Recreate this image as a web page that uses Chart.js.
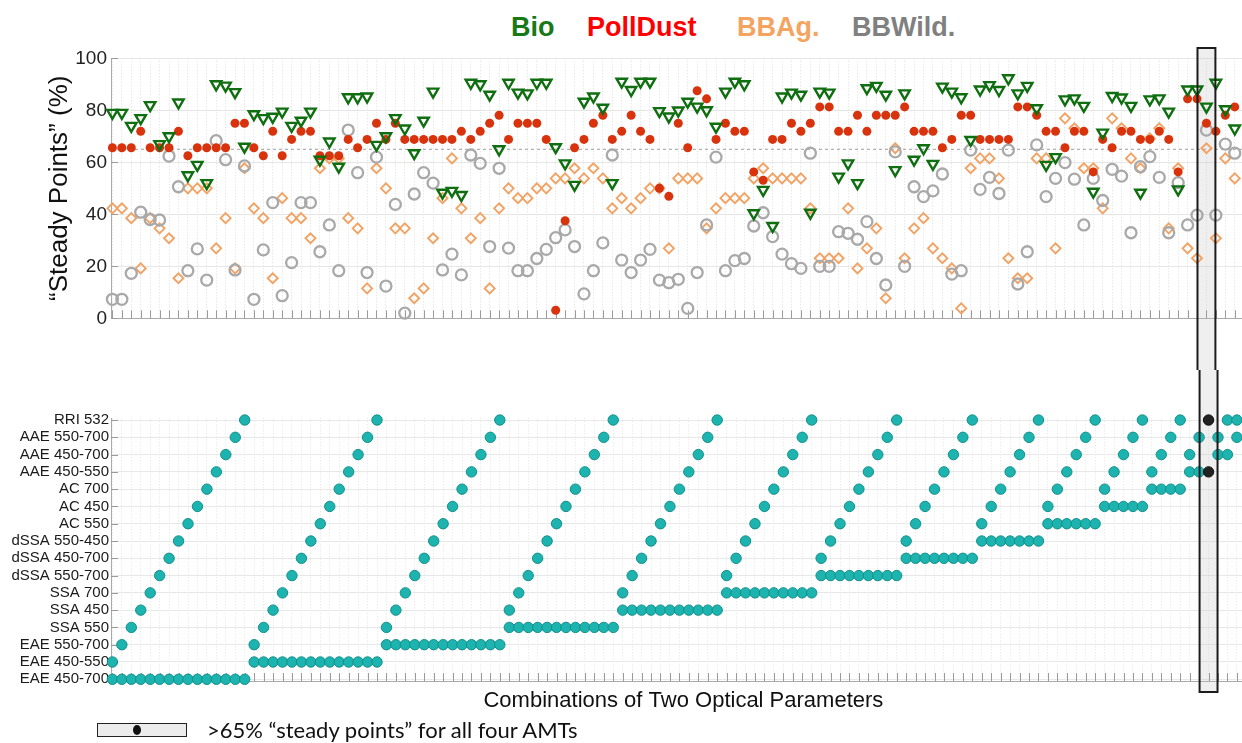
<!DOCTYPE html>
<html>
<head>
<meta charset="utf-8">
<script src="https://cdn.jsdelivr.net/npm/chart.js@4.4.0/dist/chart.umd.min.js"></script>
<style>
  body { margin: 0; width: 1242px; height: 743px; overflow: hidden; background: #fff; position: relative;
         font-family: "Liberation Sans", Arial, sans-serif; }
  #topChart { position: absolute; left: 0; top: 0; }
  #bottomChart { position: absolute; left: 0; top: 370px; }
  .amt { position: absolute; top: 14px; font-weight: bold; font-size: 27px; line-height: 27px; white-space: nowrap; }
  #keyBox { position: absolute; left: 97px; top: 723px; width: 88px; height: 12px; border: 1.5px solid #222; background: #ececec; }
  #keyBox span { position: absolute; left: 35px; top: 1px; width: 8px; height: 10px; border-radius: 50%; background: #111; }
  #keyText { position: absolute; left: 207px; top: 716px; font-family: Lato, "Open Sans", sans-serif; font-size: 22px; color: #111; white-space: nowrap; }
</style>
</head>
<body>
<div class="amt" style="left:511px;color:#187a17">Bio</div>
<div class="amt" style="left:587px;color:#ff0000">PollDust</div>
<div class="amt" style="left:737px;color:#f4a461">BBAg.</div>
<div class="amt" style="left:852px;color:#808080">BBWild.</div>

<canvas id="topChart" width="1262" height="370" style="width:1262px;height:370px"></canvas>
<canvas id="bottomChart" width="1262" height="373" style="width:1262px;height:373px"></canvas>

<div id="keyBox"><span></span></div>
<div id="keyText">&gt;65% “steady points” for all four AMTs</div>

<script>
// optical parameters, bottom to top
const params = ['EAE 450-700', 'EAE 450-550', 'EAE 550-700', 'SSA 550', 'SSA 450', 'SSA 700',
  'dSSA 550-700', 'dSSA 450-700', 'dSSA 550-450', 'AC 550', 'AC 450', 'AC 700',
  'AAE 450-550', 'AAE 450-700', 'AAE 550-700', 'RRI 532'];

// "steady points" (%) per combination
const bio = [
  79, 79, 74, 77, 82, 67, 70, 83, 55, 59, 52, 90, 89.5, 87, 66, 78.5, 77, 77.5, 79.5, 74,
  76, 79.5, 61, 68, 58.3, 85, 85, 85.3, 66.7, 70, 77, 73, 63.5, 76, 87.2, 48.3, 49, 47.4, 90.6, 90,
  86, 65, 90.6, 86.8, 86.5, 90.6, 90.6, 65.8, 59.6, 51.3, 83.3, 85.3, 81, 52, 91, 87.8, 91, 91, 79.7, 77.6,
  79.9, 83.3, 81.4, 80, 73.7, 87.2, 91, 90, 40.4, 49.4, 35.5, 85.3, 86.8, 86, 40.6, 87.2, 86.8, 54.5, 59.6, 52,
  88.5, 89.4, 86, 57, 86.5, 61, 65.4, 59.4, 89.1, 87.2, 85, 68.6, 88, 89.7, 87.8, 92.3, 86.5, 89.4, 80.8, 59,
  62, 84.2, 84.6, 81.7, 48.7, 71.4, 85.5, 84.9, 81.7, 48.3, 84.2, 84.6, 79.5, 49.6, 88, 88, 81.4, 90.6, 80.4, 73
];
const pollDust = [
  65.6, 65.6, 65.6, 71.9, 65.6, 65.6, 65.6, 71.9, 62.5, 65.6, 65.6, 65.6, 65.6, 75, 75, 65.6, 62.5, 71.9, 62.5, 68.8,
  71.9, 71.9, 62.5, 62.5, 62.5, 68.8, 65.6, 68.8, 75, 68.8, 75, 68.8, 68.8, 68.8, 68.8, 68.8, 68.8, 71.9, 68.8, 71.9,
  75, 78.1, 68.8, 75, 75, 75, 68.8, 3.1, 37.5, 65.6, 68.8, 75, 78.1, 68.8, 71.9, 78.1, 71.9, 68.8, 50, 46.9,
  75, 65.6, 87.5, 84.4, 68.8, 75, 71.9, 71.9, 56.3, 53.1, 68.8, 68.8, 75, 71.9, 75, 81.3, 81.3, 71.9, 71.9, 78.1,
  71.9, 78.1, 78.1, 78.1, 81.3, 71.9, 71.9, 71.9, 65.6, 68.8, 78.1, 78.1, 68.8, 68.8, 68.8, 68.8, 81.3, 81.3, 78.1, 71.9,
  71.9, 65.6, 71.9, 71.9, 56.3, 68.8, 65.6, 71.9, 71.9, 68.8, 68.8, 71.9, 68.8, 56.3, 84.4, 84.4, 75, 71.9, 78.1, 81.3
];
const bbAg = [
  42.3, 42.3, 38.5, 19.2, 38.5, 34.6, 30.8, 15.4, 50, 50, 50, 26.9, 38.5, 19.2, 57.7, 42.3, 38.5, 15.4, 46.2, 38.5,
  38.5, 30.8, 57.7, 61.5, 61.5, 38.5, 34.6, 11.5, 57.7, 50, 34.6, 34.6, 7.7, 11.5, 30.8, 46.2, 61.5, 42.3, 30.8, 38.5,
  11.5, 42.3, 50, 46.2, 46.2, 50, 50, 53.8, 53.8, 57.7, 53.8, 57.7, 53.8, 42.3, 46.2, 42.3, 46.2, 50, 50, 26.9,
  53.8, 53.8, 53.8, 34.6, 42.3, 46.2, 46.2, 46.2, 53.8, 57.7, 53.8, 53.8, 53.8, 53.8, 42.3, 23.1, 23.1, 23.1, 42.3, 19.2,
  26.9, 34.6, 7.7, 65.4, 23.1, 34.6, 38.5, 26.9, 23.1, 19.2, 3.8, 57.7, 61.5, 61.5, 53.8, 23.1, 15.4, 15.4, 61.5, 61.5,
  26.9, 76.9, 73.1, 57.7, 57.7, 42.3, 76.9, 73.1, 61.5, 57.7, 69.2, 73.1, 34.6, 57.7, 26.9, 23.1, 65.4, 30.8, 61.5, 53.8
];
const bbWild = [
  7.3, 7.3, 17.3, 40.8, 38, 37.8, 62.4, 50.6, 18.3, 26.7, 14.7, 68.3, 61, 18.6, 58.6, 7.3, 26.3, 44.5, 8.7, 21.4,
  44.5, 44.5, 25.6, 35.9, 18.3, 72.4, 56, 17.6, 62, 12.4, 43.8, 2, 47.8, 56, 52, 18.6, 24.7, 16.7, 62.8, 59.6,
  27.6, 57.7, 27, 18.3, 18.3, 23, 26.5, 31, 34, 27.6, 9.4, 18.3, 29, 62.8, 22.4, 17.6, 22.4, 26.5, 14.7, 13.7,
  15, 3.8, 17.6, 35.9, 62, 18.3, 22.2, 23, 35.5, 40.6, 31.4, 24.7, 21, 19.2, 63.5, 20, 20, 33.3, 32.7, 30.4,
  37.2, 23, 12.8, 64, 20, 50.6, 46.8, 49, 55.5, 17, 18.3, 64.7, 49.6, 54.2, 48, 64.7, 13.2, 25.6, 66.7, 46.8,
  53.8, 59.9, 53.5, 35.9, 53.8, 45.3, 57.3, 54.7, 32.9, 58.3, 62.2, 54.2, 32.9, 52.2, 35.9, 39.7, 72.4, 39.7, 67, 63.5
];

const yTicks = [0, 20, 40, 60, 80, 100];
const threshold = 65;
const steadyPair = ['AAE 450-550', 'RRI 532'];

// every pair of two parameters, in the figure's order
const combos = [];
for (let i = 0; i < params.length; i++) {
  for (let j = i + 1; j < params.length; j++) combos.push([i, j]);
}
const steadyIdx = combos.findIndex(c => params[c[0]] === steadyPair[0] && params[c[1]] === steadyPair[1]);

const X_MIN = -0.15, X_MAX = 121;
const FONT = '"Liberation Sans", Arial, sans-serif';
Chart.defaults.font.family = FONT;
Chart.defaults.animation = false;

// highlight column + inward tick marks
const frame = {
  id: 'frame',
  beforeDatasetsDraw(chart, args, opts) {
    const {ctx, chartArea, scales: {x, y}} = chart;
    const x1 = x.getPixelForValue(steadyIdx - 0.95), x2 = x.getPixelForValue(steadyIdx + 0.95);
    ctx.save();
    ctx.fillStyle = 'rgba(190,190,190,0.25)';
    ctx.fillRect(x1, opts.y0, x2 - x1, opts.y1 - opts.y0);
    ctx.strokeStyle = '#9a9a9a';
    ctx.lineWidth = 1;
    ctx.beginPath();
    x.ticks.forEach(t => {
      const px = Math.round(x.getPixelForValue(t.value)) + 0.5;
      ctx.moveTo(px, chartArea.bottom);
      ctx.lineTo(px, chartArea.bottom - 8);
    });
    y.ticks.forEach(t => {
      const py = Math.round(y.getPixelForValue(t.value)) + 0.5;
      ctx.moveTo(chartArea.left, py);
      ctx.lineTo(chartArea.left + 7, py);
    });
    ctx.stroke();
    ctx.restore();
  },
  afterDatasetsDraw(chart, args, opts) {
    const {ctx, scales: {x}} = chart;
    const x1 = x.getPixelForValue(steadyIdx - 0.95), x2 = x.getPixelForValue(steadyIdx + 0.95);
    ctx.save();
    ctx.strokeStyle = '#1c1c1c';
    ctx.lineWidth = 2;
    ctx.beginPath();
    ctx.moveTo(x1, opts.y0); ctx.lineTo(x1, opts.y1);
    ctx.moveTo(x2, opts.y0); ctx.lineTo(x2, opts.y1);
    if (opts.top) { ctx.moveTo(x1 - 1, opts.y0); ctx.lineTo(x2 + 1, opts.y0); }
    if (opts.bottom) { ctx.moveTo(x1 - 1, opts.y1); ctx.lineTo(x2 + 1, opts.y1); }
    ctx.stroke();
    ctx.restore();
  }
};

const colTicks = s => { s.ticks = combos.map((c, k) => ({value: k})); };
const pts = arr => arr.map((v, k) => ({x: k, y: v}));

new Chart(document.getElementById('topChart'), {
  type: 'scatter',
  data: {
    datasets: [
      {label: 'Bio', data: pts(bio), order: 1, pointStyle: 'triangle', rotation: 180, pointRadius: 6,
       borderColor: '#0f6e10', backgroundColor: 'rgba(0,0,0,0)', borderWidth: 2.4, clip: false},
      {label: 'PollDust', data: pts(pollDust), order: 2, pointStyle: 'circle', pointRadius: 4.5,
       borderColor: '#d8330d', backgroundColor: '#d8330d', borderWidth: 0, clip: false},
      {label: 'BBWild.', data: pts(bbWild), order: 3, pointStyle: 'circle', pointRadius: 5.5,
       borderColor: '#a9a9a9', backgroundColor: 'rgba(0,0,0,0)', borderWidth: 2.3, clip: false},
      {label: 'BBAg.', data: pts(bbAg), order: 4, pointStyle: 'rectRot', pointRadius: 5,
       borderColor: '#f2a263', backgroundColor: 'rgba(0,0,0,0)', borderWidth: 1.9, clip: false},
      {type: 'line', label: '65%', data: [{x: X_MIN, y: threshold}, {x: X_MAX, y: threshold}], order: 9,
       borderColor: '#a0a0a0', borderWidth: 1, borderDash: [3, 3], pointRadius: 0}
    ]
  },
  options: {
    responsive: false,
    layout: {padding: {top: 58.3, left: 0, right: 0, bottom: 0}},
    plugins: {legend: {display: false}, tooltip: {enabled: false},
              frame: {y0: 48, y1: 370, top: true, bottom: false}},
    scales: {
      x: {
        type: 'linear', min: X_MIN, max: X_MAX,
        afterBuildTicks: colTicks,
        ticks: {display: false, autoSkip: false},
        grid: {color: '#dedede', drawTicks: false},
        border: {color: '#aaaaaa', dash: [1, 2]},
        afterFit: s => { s.height = 51.7; }
      },
      y: {
        min: 0, max: 100,
        afterBuildTicks: s => { s.ticks = yTicks.map(v => ({value: v})); },
        ticks: {font: {size: 19}, color: '#222', padding: 4, autoSkip: false},
        grid: {color: '#e6e6e6', drawTicks: false},
        border: {color: '#aaaaaa'},
        title: {display: true, text: '“Steady Points” (%)', font: {size: 26}, color: '#111', padding: {top: 44}},
        afterFit: s => { s.width = 111; }
      }
    }
  },
  plugins: [frame]
});

// bottom panel: the two parameters of each combination
const pairPts = [], pairColors = [], pairBorders = [];
combos.forEach((c, k) => {
  c.forEach(p => {
    pairPts.push({x: k, y: p});
    pairColors.push(k === steadyIdx ? '#222222' : '#1db3ae');
    pairBorders.push(k === steadyIdx ? '#111111' : '#138f8b');
  });
});

new Chart(document.getElementById('bottomChart'), {
  type: 'scatter',
  data: {
    datasets: [{label: 'pairs', data: pairPts, pointRadius: 5.2, backgroundColor: pairColors,
                borderColor: pairBorders, borderWidth: 1, clip: false}]
  },
  options: {
    responsive: false,
    layout: {padding: {top: 48.3, left: 0, right: 0, bottom: 0}},
    plugins: {legend: {display: false}, tooltip: {enabled: false},
              frame: {y0: 0, y1: 322, top: false, bottom: true}},
    scales: {
      x: {
        type: 'linear', min: X_MIN, max: X_MAX,
        afterBuildTicks: colTicks,
        ticks: {display: false, autoSkip: false},
        grid: {color: '#e4e4e4', drawTicks: false},
        border: {color: '#aaaaaa', dash: [1, 2]},
        title: {display: true, text: 'Combinations of Two Optical Parameters', font: {size: 22}, color: '#111',
                padding: {top: 0, bottom: 29}},
        afterFit: s => { s.height = 62; }
      },
      y: {
        min: -0.1, max: 15.1,
        afterBuildTicks: s => { s.ticks = params.map((p, i) => ({value: i})); },
        ticks: {callback: v => params[v], font: {size: 15}, color: '#1a1a1a', padding: 2, autoSkip: false},
        grid: {color: '#e8e8e8', drawTicks: false},
        border: {color: '#aaaaaa'},
        afterFit: s => { s.width = 111; }
      }
    }
  },
  plugins: [frame]
});
</script>
</body>
</html>
